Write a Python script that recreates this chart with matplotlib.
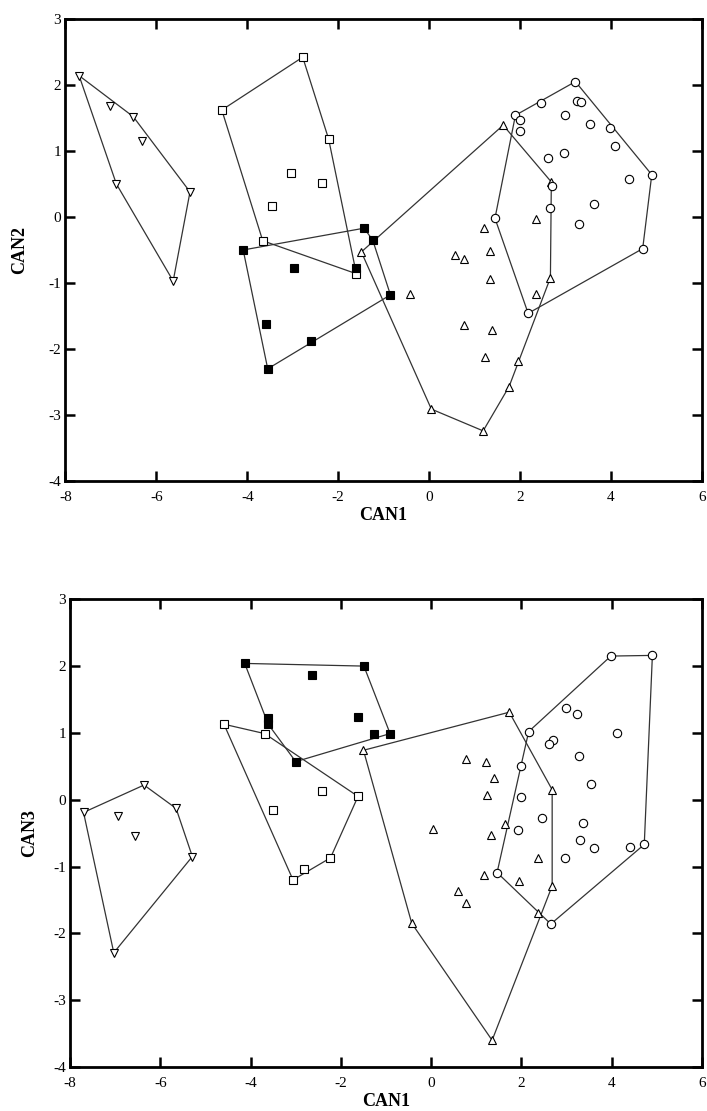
import numpy as np
import matplotlib
matplotlib.use("Agg")
import matplotlib.pyplot as plt

plt.rcParams['font.family'] = ['Liberation Serif', 'DejaVu Serif']
plt.rcParams['axes.unicode_minus'] = False

# ---- CAN1 vs CAN2 (top panel) ----
tri_dn_x1 = [-7.70, -7.03, -6.51, -6.31, -5.26, -6.88, -5.63]
tri_dn_y1 = [2.14, 1.68, 1.52, 1.15, 0.38, 0.50, -0.97]

sq_open_x1 = [-4.56, -2.78, -2.21, -3.04, -2.36, -3.46, -3.66, -1.60]
sq_open_y1 = [1.62, 2.42, 1.18, 0.67, 0.51, 0.17, -0.36, -0.86]

sq_fill_x1 = [-4.09, -1.43, -1.24, -0.85, -2.59, -3.55, -3.58, -2.98, -1.60]
sq_fill_y1 = [-0.50, -0.17, -0.35, -1.18, -1.88, -2.30, -1.62, -0.78, -0.78]

tri_up_x1 = [-1.49, 1.63, 2.69, 2.67, 1.96, 1.76, 1.19, 0.05, -0.43, 0.57,
             0.76, 1.21, 1.33, 1.33, 0.77, 1.39, 1.23, 2.36, 2.36]
tri_up_y1 = [-0.53, 1.39, 0.53, -0.92, -2.18, -2.57, -3.24, -2.91, -1.17, -0.57,
             -0.64, -0.17, -0.51, -0.94, -1.64, -1.71, -2.12, -0.03, -1.17]

circ_x1 = [1.90, 2.00, 1.99, 2.47, 3.22, 3.26, 3.34, 2.98, 3.54, 3.99, 4.10,
           4.90, 4.39, 4.70, 3.62, 3.29, 2.62, 2.96, 2.71, 2.66, 1.45, 2.18]
circ_y1 = [1.54, 1.47, 1.30, 1.73, 2.05, 1.75, 1.74, 1.55, 1.41, 1.34, 1.08,
           0.64, 0.58, -0.48, 0.20, -0.11, 0.90, 0.97, 0.47, 0.13, -0.02, -1.46]

# ---- CAN1 vs CAN3 (bottom panel) ----
tri_dn_x2 = [-7.70, -6.36, -5.65, -5.29, -7.03, -6.93, -6.55]
tri_dn_y2 = [-0.19, 0.22, -0.13, -0.85, -2.29, -0.25, -0.55]

sq_open_x2 = [-4.59, -3.69, -1.62, -2.23, -2.82, -3.06, -3.50, -2.42]
sq_open_y2 = [1.13, 0.99, 0.05, -0.87, -1.03, -1.20, -0.16, 0.13]

sq_fill_x2 = [-4.13, -1.49, -2.65, -1.62, -3.61, -3.61, -1.27, -0.91, -3.00]
sq_fill_y2 = [2.04, 2.00, 1.86, 1.24, 1.23, 1.13, 0.99, 0.99, 0.57]

tri_up_x2 = [-1.50, 1.73, 2.68, 2.68, 2.36, 1.35, -0.43, 0.77, 1.22, 1.39,
             1.23, 0.04, 1.33, 1.64, 2.36, 1.18, 1.95, 0.59, 0.77]
tri_up_y2 = [0.74, 1.31, 0.15, -1.29, -1.69, -3.60, -1.85, 0.61, 0.57, 0.33,
             0.07, -0.44, -0.53, -0.37, -0.87, -1.13, -1.21, -1.36, -1.54]

circ_x2 = [2.16, 3.98, 4.90, 4.72, 2.65, 1.46, 1.99, 2.99, 3.23, 2.69, 2.62,
           4.11, 3.28, 3.54, 1.99, 2.46, 3.36, 1.92, 3.30, 3.61, 4.41, 2.96]
circ_y2 = [1.02, 2.15, 2.16, -0.67, -1.86, -1.09, 0.51, 1.37, 1.28, 0.90, 0.84,
           1.00, 0.66, 0.23, 0.04, -0.28, -0.35, -0.45, -0.61, -0.72, -0.70, -0.87]

x_ticks = [-8, -6, -4, -2, 0, 2, 4, 6]
y_ticks = [-4, -3, -2, -1, 0, 1, 2, 3]


def convex_hull(xs, ys):
    pts = sorted(set(zip(xs, ys)))

    def cross(o, a, b):
        return (a[0] - o[0]) * (b[1] - o[1]) - (a[1] - o[1]) * (b[0] - o[0])

    lower = []
    for p in pts:
        while len(lower) >= 2 and cross(lower[-2], lower[-1], p) <= 0:
            lower.pop()
        lower.append(p)
    upper = []
    for p in reversed(pts):
        while len(upper) >= 2 and cross(upper[-2], upper[-1], p) <= 0:
            upper.pop()
        upper.append(p)
    hull = lower[:-1] + upper[:-1]
    hull.append(hull[0])
    return np.array(hull)


def draw_panel(ax, groups, ylab, ypad):
    for xs, ys, marker, face in groups:
        h = convex_hull(xs, ys)
        ax.plot(h[:, 0], h[:, 1], '-', color='#333333', lw=0.9, zorder=1)
        ax.plot(xs, ys, linestyle='none', marker=marker, ms=6 if marker != 's' else 5.5,
                mfc=face, mec='black', mew=0.8, zorder=2)
    ax.set_xlim(-8, 6)
    ax.set_ylim(-4, 3)
    ax.set_xticks(x_ticks)
    ax.set_yticks(y_ticks)
    ax.tick_params(direction='in', length=7, width=1.8, top=True, right=True,
                   labelsize=11)
    ax.tick_params(axis='x', pad=7)
    ax.tick_params(axis='y', pad=3)
    for s in ax.spines.values():
        s.set_linewidth(2)
    ax.set_xlabel('CAN1', fontsize=13, fontweight='bold', labelpad=2)
    ax.set_ylabel(ylab, fontsize=13, fontweight='bold', labelpad=ypad)


fig = plt.figure(figsize=(7.07, 11.11), dpi=100)
ax1 = fig.add_axes([0.0926, 0.567, 0.900, 0.416])
ax2 = fig.add_axes([0.099, 0.0396, 0.894, 0.421])

draw_panel(ax1, [
    (tri_dn_x1, tri_dn_y1, 'v', 'white'),
    (sq_open_x1, sq_open_y1, 's', 'white'),
    (sq_fill_x1, sq_fill_y1, 's', 'black'),
    (tri_up_x1, tri_up_y1, '^', 'white'),
    (circ_x1, circ_y1, 'o', 'white'),
], 'CAN2', 15)

draw_panel(ax2, [
    (tri_dn_x2, tri_dn_y2, 'v', 'white'),
    (sq_open_x2, sq_open_y2, 's', 'white'),
    (sq_fill_x2, sq_fill_y2, 's', 'black'),
    (tri_up_x2, tri_up_y2, '^', 'white'),
    (circ_x2, circ_y2, 'o', 'white'),
], 'CAN3', 11)

fig.savefig('out.png', dpi=100)
